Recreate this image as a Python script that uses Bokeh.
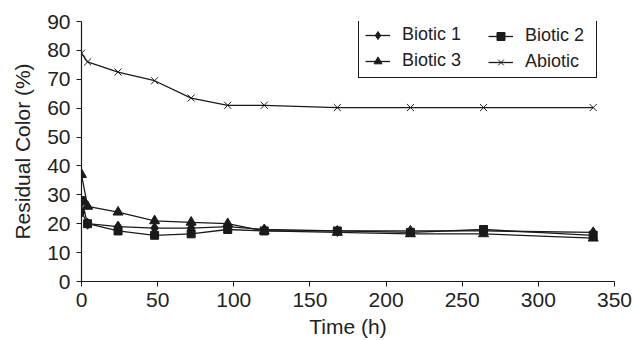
from bokeh.plotting import figure
from bokeh.models import Range1d, Legend, LegendItem, FixedTicker
from bokeh.embed import file_html
from bokeh.resources import INLINE

time_h = [0, 4, 24, 48, 72, 96, 120, 168, 216, 264, 336]
biotic1 = [24, 20, 19, 18.5, 18.5, 19, 18, 17.5, 17.5, 17.5, 17]
biotic2 = [28, 20, 17.5, 16, 16.5, 18, 17.5, 17.5, 17, 18, 16]
biotic3 = [37, 26, 24, 21, 20.5, 20, 17.5, 17, 16.5, 16.5, 15]
abiotic = [79, 76, 72.5, 69.5, 63.5, 61, 61, 60.2, 60.2, 60.2, 60.2]
x_ticks = [0, 50, 100, 150, 200, 250, 300, 350]
y_ticks = [0, 10, 20, 30, 40, 50, 60, 70, 80, 90]

FONT = "Liberation Sans"
INK = "#1a1a1a"

p = figure(width=634, height=340, output_backend="svg", toolbar_location=None,
           x_range=Range1d(0, 350), y_range=Range1d(0, 90),
           min_border_left=81, min_border_right=20, min_border_top=21, min_border_bottom=59)
p.outline_line_color = None
p.xgrid.grid_line_color = None
p.ygrid.grid_line_color = None

for ax in (p.xaxis[0], p.yaxis[0]):
    ax.axis_line_color = INK
    ax.axis_line_width = 1.2
    ax.major_tick_line_color = INK
    ax.major_tick_out = 5
    ax.major_tick_in = 0
    ax.minor_tick_line_color = None
    ax.major_label_text_font = FONT
    ax.major_label_text_font_size = "21px"
    ax.major_label_text_color = "#222222"
    ax.axis_label_text_font = FONT
    ax.axis_label_text_font_size = "21px"
    ax.axis_label_text_font_style = "normal"
    ax.axis_label_text_color = "#222222"

p.xaxis.ticker = FixedTicker(ticks=x_ticks)
p.yaxis.ticker = FixedTicker(ticks=y_ticks)
p.xaxis.axis_label = "Time (h)"
p.yaxis.axis_label = "Residual Color (%)"
p.xaxis.major_label_standoff = 6
p.xaxis.axis_label_standoff = 5
p.yaxis.major_label_standoff = 6
p.yaxis.axis_label_standoff = 10

def series(y, marker, size):
    l = p.line(time_h, y, line_color=INK, line_width=1.3)
    m = p.scatter(time_h, y, marker=marker, size=size, fill_color=INK, line_color=INK)
    return [l, m]

r1 = series(biotic1, "diamond", 11)
r2 = series(biotic2, "square", 8)
r3 = series(biotic3, "triangle", 10)
r4 = series(abiotic, "x", 10)

def make_legend(items, x, y, label_width, border_alpha):
    lg = Legend(items=items, orientation="vertical", location=(x, y))
    lg.label_text_font = FONT
    lg.label_text_font_size = "18px"
    lg.label_text_color = "#222222"
    lg.border_line_color = INK
    lg.border_line_alpha = border_alpha
    lg.border_line_width = 1
    lg.background_fill_alpha = 0
    lg.glyph_width = 25
    lg.glyph_height = 20
    lg.label_standoff = 12
    lg.label_width = label_width
    lg.label_height = 20
    lg.padding = 6
    lg.spacing = 5
    lg.margin = 0
    return lg

leg1 = make_legend([LegendItem(label="Biotic 1", renderers=r1),
                    LegendItem(label="Biotic 3", renderers=r3)], 277, 203, 188, 1)
leg2 = make_legend([LegendItem(label="Biotic 2", renderers=r2),
                    LegendItem(label="Abiotic", renderers=r4)], 401, 203, 70, 0)
p.add_layout(leg1, "center")
p.add_layout(leg2, "center")

open("out.html", "w").write(file_html(p, INLINE))
